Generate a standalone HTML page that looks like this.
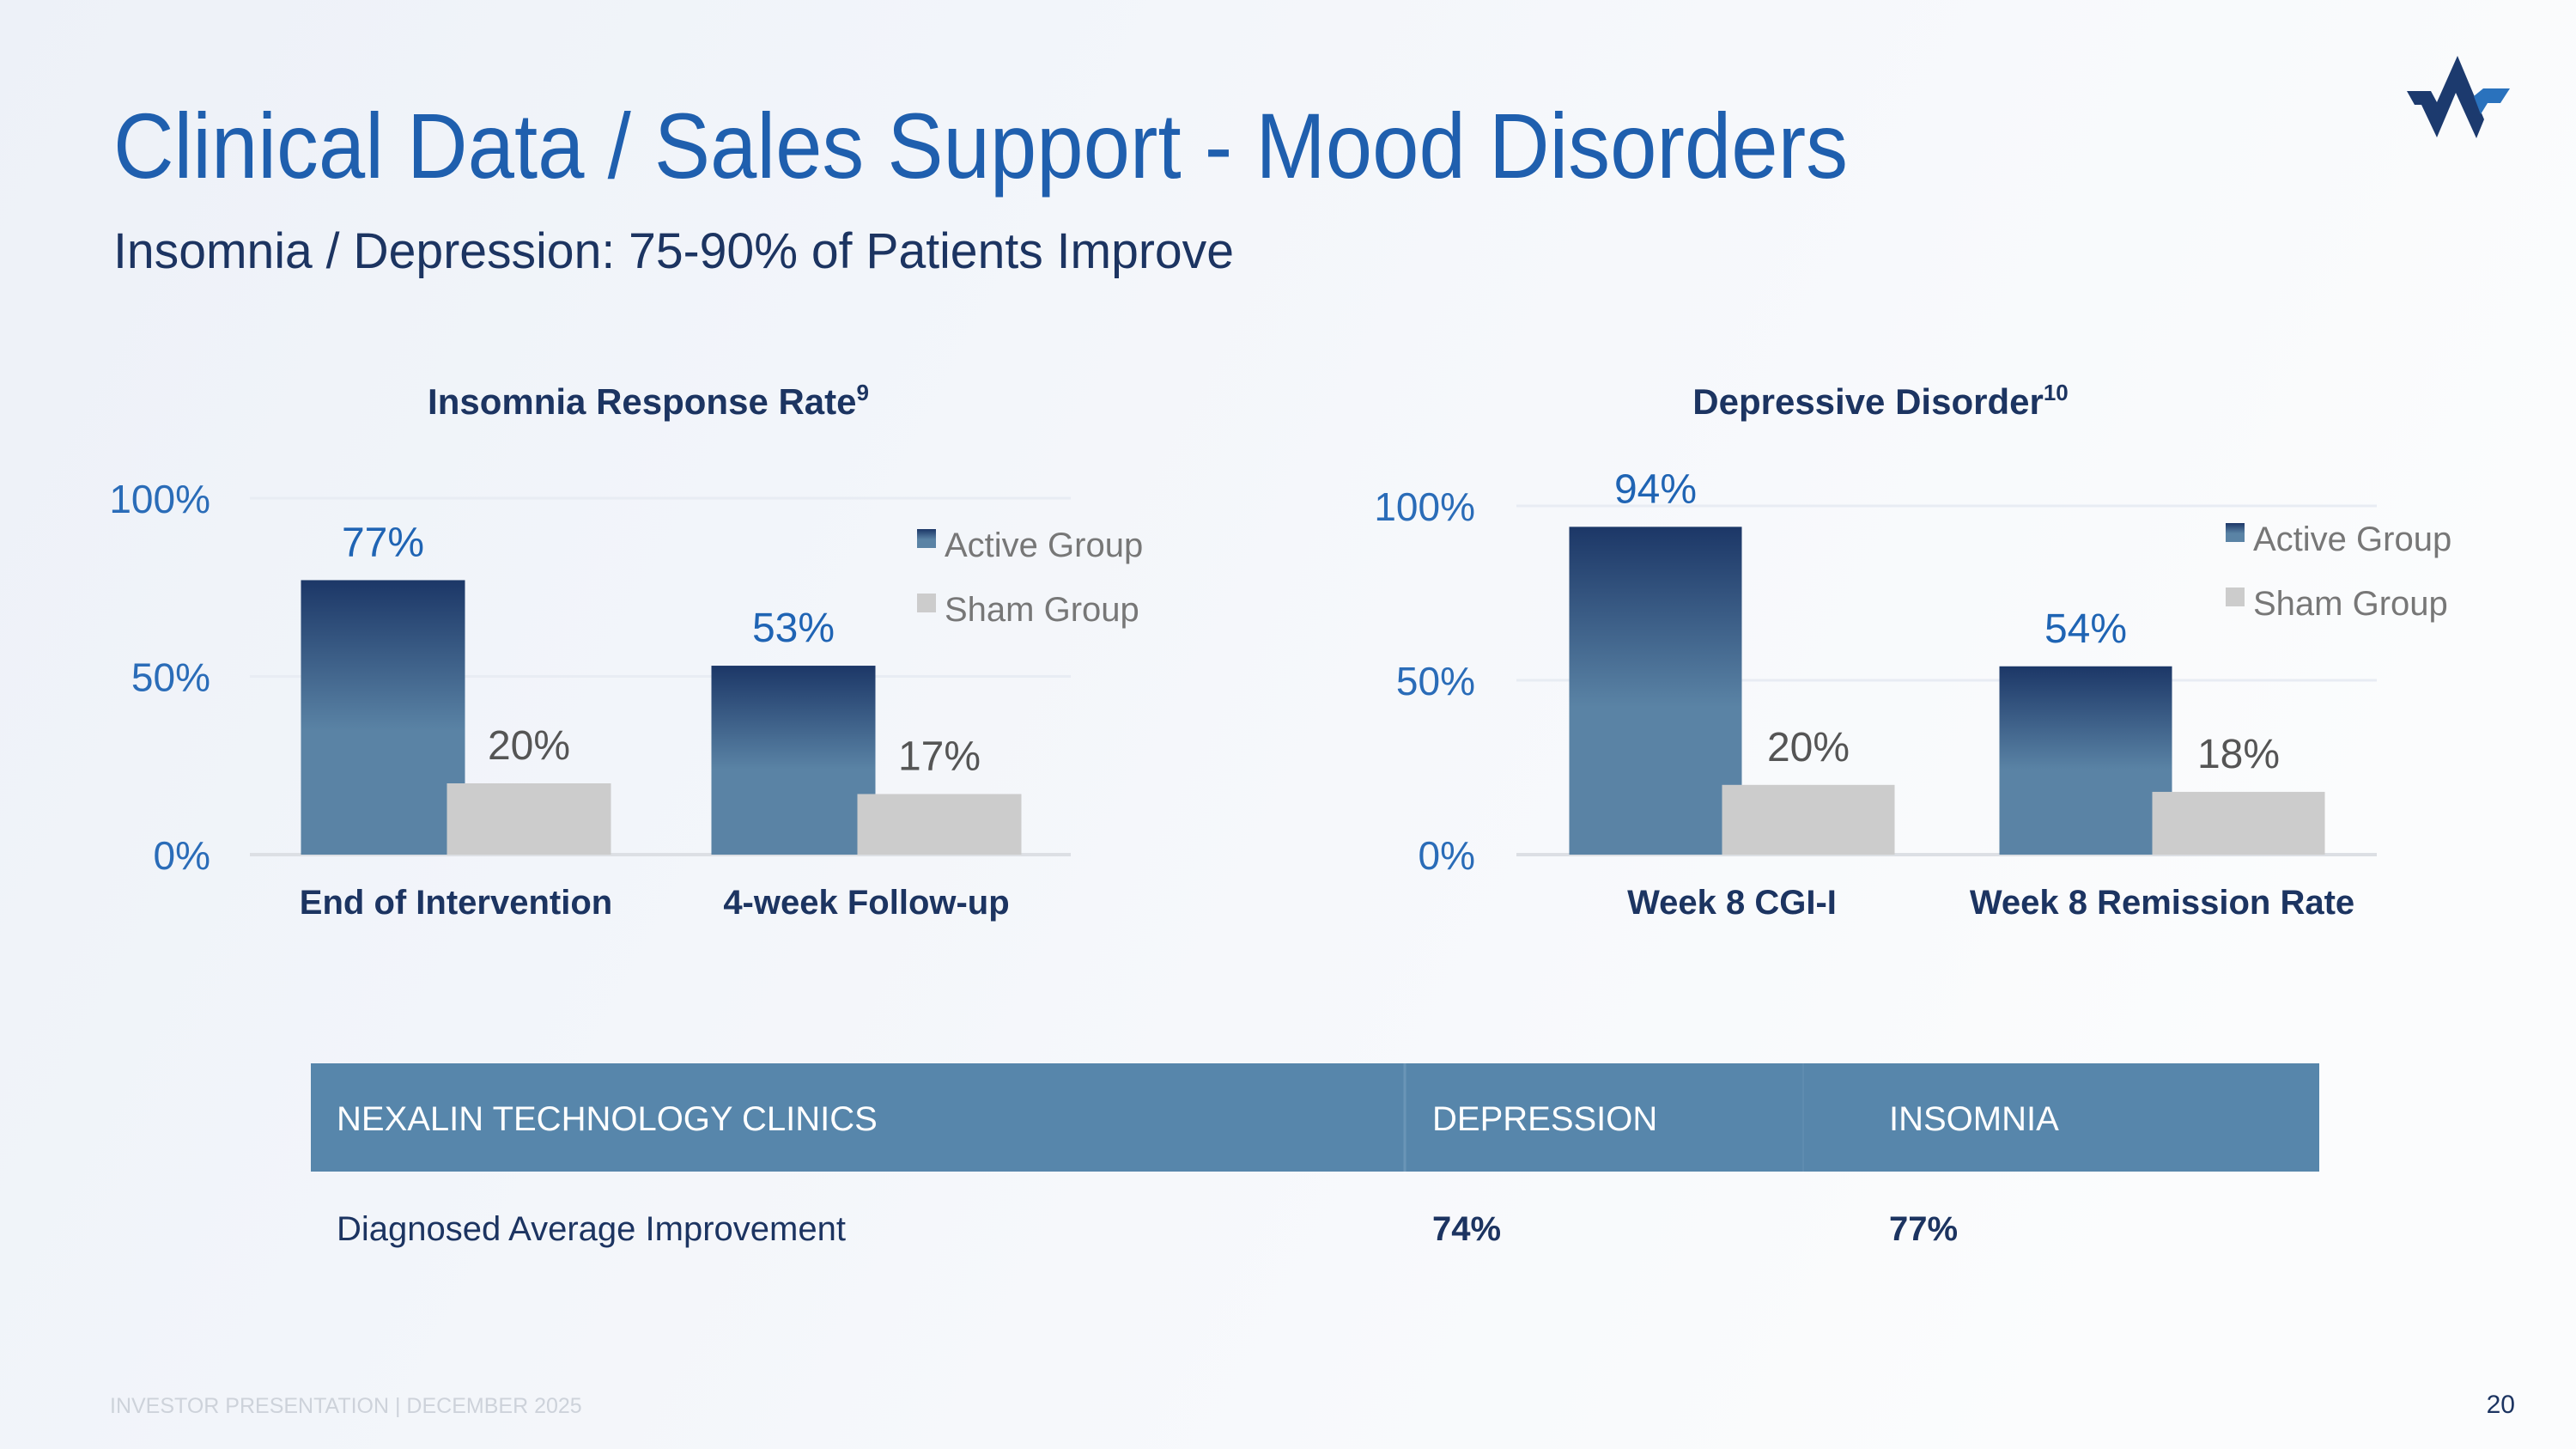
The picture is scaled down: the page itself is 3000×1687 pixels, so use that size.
<!DOCTYPE html>
<html><head><meta charset="utf-8"><style>
html,body{margin:0;padding:0;width:3000px;height:1687px;overflow:hidden}
svg{display:block;font-family:"Liberation Sans",sans-serif}
</style></head><body>
<svg id="slide" width="3000" height="1687" viewBox="0 0 3000 1687" xmlns="http://www.w3.org/2000/svg">
<defs>
<linearGradient id="bg" x1="0" y1="0" x2="1" y2="0.3"><stop offset="0" stop-color="#edf1f8"/><stop offset="1" stop-color="#fbfcfd"/></linearGradient>
<linearGradient id="act" x1="0" y1="0" x2="0" y2="1"><stop offset="0" stop-color="#1c3767"/><stop offset="0.55" stop-color="#5a83a5"/><stop offset="1" stop-color="#5a83a5"/></linearGradient>
</defs>
<rect width="3000" height="1687" fill="url(#bg)"/>
<g>
<polygon points="2803,106 2831,106 2838,119 2862,65 2893,139 2884,161 2860,108 2838,160 2820,122 2812,122" fill="#1c3a6e"/>
<polygon points="2892,103 2923,103 2912,120 2897,120 2889,133 2881,112" fill="#2a72bd"/>
</g>
<text x="132" y="207" font-size="108" fill="#1f5fae" textLength="2020" lengthAdjust="spacingAndGlyphs" font-weight="300">Clinical Data / Sales Support - Mood Disorders</text>
<text x="132" y="312" font-size="58" fill="#1c3461" textLength="1305" lengthAdjust="spacingAndGlyphs">Insomnia / Depression: 75-90% of Patients Improve</text>
<g id="charts"></g>
<g>
<rect x="362" y="1238" width="2339" height="126" fill="#5786ab"/>
<line x1="1636" y1="1238" x2="1636" y2="1364" stroke="#6a95b7" stroke-width="3"/>
<line x1="2100" y1="1238" x2="2100" y2="1364" stroke="#5f8cb0" stroke-width="2"/>
<text x="392" y="1316" font-size="40" fill="#fff">NEXALIN TECHNOLOGY CLINICS</text>
<text x="1668" y="1316" font-size="40" fill="#fff">DEPRESSION</text>
<text x="2200" y="1316" font-size="40" fill="#fff">INSOMNIA</text>
<text x="392" y="1444" font-size="40" fill="#1c3461">Diagnosed Average Improvement</text>
<text x="1668" y="1444" font-size="40" font-weight="bold" fill="#1c3461">74%</text>
<text x="2200" y="1444" font-size="40" font-weight="bold" fill="#1c3461">77%</text>
</g>
<text x="128" y="1645" font-size="25" fill="#cdd2da">INVESTOR PRESENTATION  |  DECEMBER 2025</text>
<text x="2929" y="1645" font-size="30" fill="#1c3461" text-anchor="end">20</text>
</svg>
<script>
const leftCategories = ["End of Intervention", "4-week Follow-up"];
const leftActive = [77, 53];
const leftSham = [20, 17];
const rightCategories = ["Week 8 CGI-I", "Week 8 Remission Rate"];
const rightActive = [94, 54];
const rightSham = [20, 18];
const yTicks = [0, 50, 100];
const seriesNames = ["Active Group", "Sham Group"];

const NS = "http://www.w3.org/2000/svg";
const root = document.getElementById("charts");
function mk(tag, attrs, parent) {
  const e = document.createElementNS(NS, tag);
  for (const k in attrs) e.setAttribute(k, attrs[k]);
  (parent || root).appendChild(e);
  return e;
}
function chart(cfg, cats, act, sham) {
  const g = mk("g", {});
  
  
  const y = v => cfg.y0 + (cfg.y100 - cfg.y0) * v / 100;
  const t = mk("text", {x: cfg.titleX, y: 482, "font-size": 42, "font-weight": "bold", fill: "#1c3461", "text-anchor": "middle"}, g);
  t.textContent = cfg.title;
  const sup = mk("tspan", {"font-size": 26, dy: -16}, t);
  sup.textContent = cfg.sup;
  
  
  yTicks.forEach(v => {
    const l = mk("line", {x1: cfg.x0, x2: cfg.x1, y1: y(v), y2: y(v), stroke: v === 0 ? "#dcdfe4" : "#e8ecf3", "stroke-width": v === 0 ? 4 : 3}, g);
    
    
    const tl = mk("text", {x: cfg.tickX, y: y(v) + 17, "font-size": 46, fill: "#2a6cb8", "text-anchor": "end"}, g);
    tl.textContent = v + "%";
    
    
  });
  cats.forEach((c, i) => {
    const cx = cfg.c0 + i * cfg.step;
    const ax = cx - cfg.off / 2 - cfg.w / 2;
    const sx = ax + cfg.off;
    const ra = mk("rect", {x: ax, y: y(act[i]), width: cfg.w, height: y(0) - y(act[i]), fill: "url(#act)"}, g);
    
    
    const rs = mk("rect", {x: sx, y: y(sham[i]), width: cfg.w, height: y(0) - y(sham[i]), fill: "#cccccc"}, g);
    
    
    const la = mk("text", {x: ax + cfg.w / 2, y: y(act[i]) - 28, "font-size": 48, fill: "#1f64b4", "text-anchor": "middle"}, g);
    la.textContent = act[i] + "%";
    
    
    const ls = mk("text", {x: sx + cfg.w / 2, y: y(sham[i]) - 28, "font-size": 48, fill: "#555", "text-anchor": "middle"}, g);
    ls.textContent = sham[i] + "%";
    
    
    const cl = mk("text", {x: cx, y: 1064, "font-size": 40, "font-weight": "bold", fill: "#1c3461", "text-anchor": "middle"}, g);
    cl.textContent = c;
    
    
  });
  seriesNames.forEach((s, i) => {
    const ly = cfg.legY[i];
    const sq = mk("rect", {x: cfg.legX, y: ly - 32, width: 22, height: 22, fill: i === 0 ? "url(#act)" : "#cccccc"}, g);
    
    
    const lt = mk("text", {x: cfg.legX + 32, y: ly, "font-size": 40, fill: "#777"}, g);
    lt.textContent = s;
    
    
  });
}
chart({name: "insomnia-chart", title: "Insomnia Response Rate", sup: "9", titleX: 755, x0: 291, x1: 1247, y0: 995, y100: 580, tickX: 245,
  c0: 531, step: 478, w: 191, off: 170, legX: 1068, legY: [648, 723]}, leftCategories, leftActive, leftSham);
chart({name: "depression-chart", title: "Depressive Disorder", sup: "10", titleX: 2190, x0: 1766, x1: 2768, y0: 995, y100: 589, tickX: 1718,
  c0: 2017, step: 501, w: 201, off: 178, legX: 2592, legY: [641, 716]}, rightCategories, rightActive, rightSham);
</script>
</body></html>
